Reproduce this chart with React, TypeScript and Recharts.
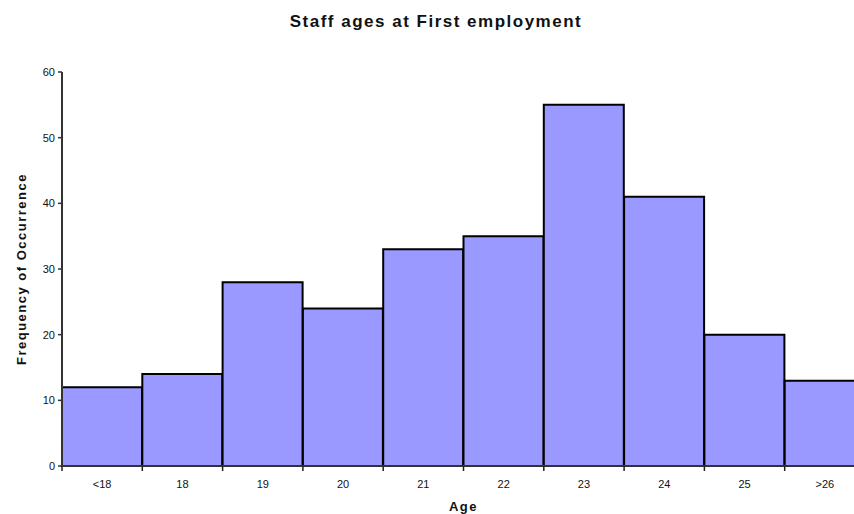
import React from 'react';
import { BarChart, Bar, XAxis, YAxis } from 'recharts';

const ageGroups = ['<18', '18', '19', '20', '21', '22', '23', '24', '25', '>26'];
const frequencies = [12, 14, 28, 24, 33, 35, 55, 41, 20, 13];
const yTicks = [0, 10, 20, 30, 40, 50, 60];

const data = ageGroups.map((age, i) => ({ age, count: frequencies[i] }));

const CHART_W = 880;
const CHART_H = 514;
const MARGIN = { top: 72, right: 15, bottom: 0, left: 0 };
const Y_AXIS_W = 62;
const X_AXIS_H = 48;
const FONT = '"Liberation Sans", Arial, sans-serif';

// x ticks sit on the bin boundaries, labels in the middle of each bin
const BinTick = ({ x, y, payload }: any) => {
  const band = (CHART_W - MARGIN.left - MARGIN.right - Y_AXIS_W) / ageGroups.length;
  const left = x - band / 2;
  return (
    <g>
      <line x1={left} x2={left} y1={y - 8} y2={y - 3} stroke="#222" strokeWidth={1.5} />
      <text x={x} y={y + 14} textAnchor="middle" fontSize={11} fill="#111" fontFamily={FONT}>
        {payload.value}
      </text>
    </g>
  );
};

export default function App() {
  return (
    <div style={{ position: 'absolute', left: 0, top: 0, width: 854, height: 514, overflow: 'hidden', background: '#fff' }}>
      <div
        style={{
          position: 'absolute', top: 12, left: 0, width: 872, textAlign: 'center',
          fontFamily: FONT, fontWeight: 'bold', fontSize: 17, letterSpacing: 1.5, color: '#111',
        }}
      >
        Staff ages at First employment
      </div>
      <BarChart
        width={CHART_W}
        height={CHART_H}
        data={data}
        margin={MARGIN}
        barCategoryGap={0}
        barGap={0}
      >
        <XAxis
          dataKey="age"
          height={X_AXIS_H}
          tick={<BinTick />}
          tickLine={false}
          axisLine={{ stroke: '#333', strokeWidth: 2 }}
          interval={0}
          label={{
            content: ({ viewBox }: any) => (
              <text
                x={viewBox.x + viewBox.width / 2}
                y={viewBox.y + 45}
                textAnchor="middle"
                fontSize={13}
                fontWeight="bold"
                letterSpacing={1.5}
                fill="#111"
                fontFamily={FONT}
              >
                Age
              </text>
            ),
          }}
        />
        <YAxis
          width={Y_AXIS_W}
          domain={[0, 60]}
          ticks={yTicks}
          interval={0}
          tick={{ fontSize: 11, fill: '#111', fontFamily: FONT }}
          tickLine={{ stroke: '#333', strokeWidth: 1.5 }}
          tickSize={4}
          tickMargin={3}
          axisLine={{ stroke: '#333', strokeWidth: 2 }}
          label={{
            content: ({ viewBox }: any) => {
              const cx = viewBox.x + 21;
              const cy = viewBox.y + viewBox.height / 2;
              return (
                <text
                  x={cx}
                  y={cy}
                  transform={`rotate(-90 ${cx} ${cy})`}
                  textAnchor="middle"
                  dominantBaseline="central"
                  fontSize={13}
                  fontWeight="bold"
                  letterSpacing={1.5}
                  fill="#111"
                  fontFamily={FONT}
                >
                  Frequency of Occurrence
                </text>
              );
            },
          }}
        />
        <Bar dataKey="count" fill="#9999FF" stroke="#000" strokeWidth={2} isAnimationActive={false} />
      </BarChart>
    </div>
  );
}
